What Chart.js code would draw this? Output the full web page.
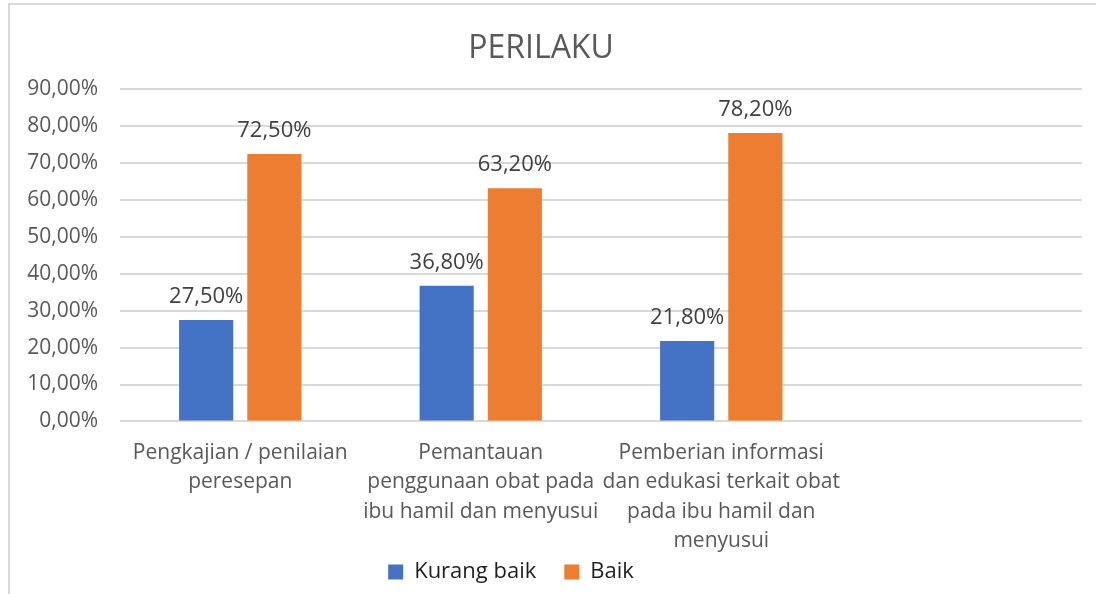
<!DOCTYPE html>
<html>
<head>
<meta charset="utf-8">
<title>PERILAKU</title>
<script src="https://cdn.jsdelivr.net/npm/chart.js@4.4.1/dist/chart.umd.min.js"></script>
<style>
  html, body { margin: 0; padding: 0; background: #fff; overflow: hidden; }
  #frame {
    position: absolute; left: 8px; top: 3px; width: 1200px; height: 700px;
    border-left: 2px solid #d9d9d9; border-top: 2px solid #d9d9d9;
  }
  #wrap { position: absolute; left: 0; top: 0; width: 1096px; height: 594px; }
</style>
</head>
<body>
<div id="frame"></div>
<div id="wrap"><canvas id="chartPerilaku"></canvas></div>
<script>
// kategori dan nilai (%)
const kategori = [
  ['Pengkajian / penilaian', 'peresepan'],
  ['Pemantauan', 'penggunaan obat pada', 'ibu hamil dan menyusui'],
  ['Pemberian informasi', 'dan edukasi terkait obat', 'pada ibu hamil dan', 'menyusui'],
  ''
];
const kurangBaik = [27.5, 36.8, 21.8, null];
const baik = [72.5, 63.2, 78.2, null];

const FONT = "'Open Sans', 'Noto Sans', sans-serif";

function persen(v) {
  return v.toFixed(2).replace('.', ',') + '%';
}

// label nilai di atas batang + posisi legenda
const labelNilai = {
  id: 'labelNilai',
  afterLayout(chart) {
    const lg = chart.legend;
    if (!lg) return;
    // legenda naik ke bawah label kategori, sedikit ke kiri
    const dy = 40, dx = 30;
    lg.top -= dy; lg.bottom -= dy;
    lg.left -= dx; lg.right -= dx;
  },
  afterDatasetsDraw(chart) {
    const ctx = chart.ctx;
    ctx.save();
    ctx.font = '22px ' + FONT;
    ctx.fillStyle = '#404040';
    ctx.textAlign = 'center';
    ctx.textBaseline = 'alphabetic';
    chart.data.datasets.forEach((ds, i) => {
      chart.getDatasetMeta(i).data.forEach((bar, j) => {
        const v = ds.data[j];
        if (v == null) return;
        ctx.fillText(persen(v), bar.x, bar.y - 17);
      });
    });
    ctx.restore();
  }
};

const ctx = document.getElementById('chartPerilaku');
new Chart(ctx, {
  type: 'bar',
  data: {
    labels: kategori,
    datasets: [
      {
        label: 'Kurang baik',
        data: kurangBaik,
        backgroundColor: '#4472c4',
        categoryPercentage: 0.567,
        barPercentage: 0.794
      },
      {
        label: 'Baik',
        data: baik,
        backgroundColor: '#ed7d31',
        categoryPercentage: 0.567,
        barPercentage: 0.794
      }
    ]
  },
  options: {
    responsive: true,
    maintainAspectRatio: false,
    animation: false,
    layout: { padding: { left: 0, right: 14, top: 0, bottom: -39 } },
    scales: {
      y: {
        min: 0,
        max: 90,
        ticks: {
          stepSize: 10,
          padding: 22,
          color: '#595959',
          font: { family: FONT, size: 21 },
          callback: v => persen(v)
        },
        grid: { color: '#d9d9d9', lineWidth: 2, drawTicks: false },
        border: { display: false },
        afterFit(scale) { scale.width = 120; }
      },
      x: {
        ticks: {
          padding: 17,
          maxRotation: 0,
          autoSkip: false,
          color: '#595959',
          font: { family: FONT, size: 21, lineHeight: 1.4 }
        },
        grid: { display: false, drawTicks: false },
        border: { display: false }
      }
    },
    plugins: {
      title: {
        display: true,
        text: 'PERILAKU',
        color: '#595959',
        font: { family: FONT, size: 32, weight: 'normal' },
        padding: { top: 30, bottom: 21 }
      },
      legend: {
        position: 'bottom',
        labels: {
          boxWidth: 15,
          boxHeight: 15,
          padding: 28,
          color: '#1f1f1f',
          font: { family: FONT, size: 22 }
        }
      },
      tooltip: { enabled: false }
    }
  },
  plugins: [labelNilai]
});
</script>
</body>
</html>
